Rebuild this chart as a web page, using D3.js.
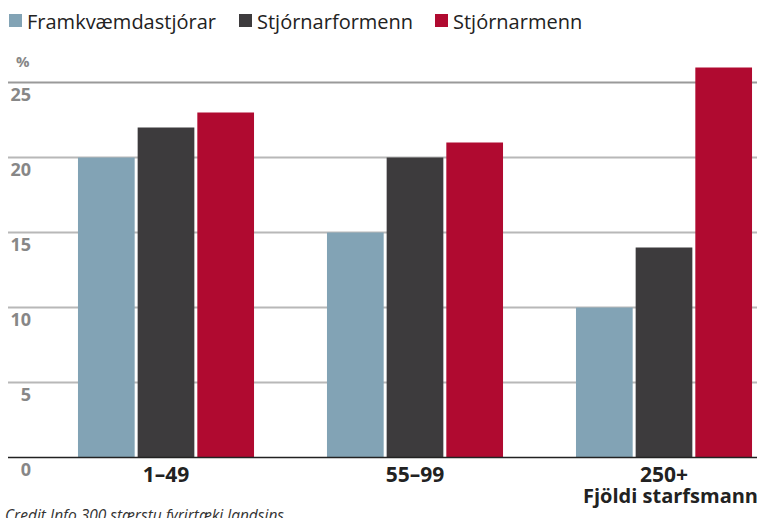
<!DOCTYPE html>
<html>
<head>
<meta charset="utf-8">
<script src="https://cdn.jsdelivr.net/npm/d3@7"></script>
<style>
  body { margin: 0; background: #fff; }
  svg { display: block; font-family: "Open Sans", sans-serif; }
</style>
</head>
<body>
<svg id="chart" width="757" height="518"></svg>
<script>
// data
const groups = ['1–49', '55–99', '250+'];
const series = ['Framkvæmdastjórar', 'Stjórnarformenn', 'Stjórnarmenn'];
const framkvaemdastjorar = [20, 15, 10];
const stjornarformenn = [22, 20, 14];
const stjornarmenn = [23, 21, 26];
const yTicks = [0, 5, 10, 15, 20, 25];

const colors = ['#82a3b5', '#3d3b3d', '#b00a30'];
const values = [framkvaemdastjorar, stjornarformenn, stjornarmenn];

const svg = d3.select('#chart');

const x0 = d3.scaleBand().domain(groups).range([41.5, 788.5])
    .paddingInner(0.293).paddingOuter(0.1465);
const x1 = d3.scaleBand().domain(series).range([0, x0.bandwidth()]).paddingInner(0.05);
const y = d3.scaleLinear().domain([0, 25]).range([457.5, 82.5]);

// gridlines
svg.append('g').selectAll('line')
    .data(yTicks.filter(d => d > 0))
    .join('line')
    .attr('x1', 8).attr('x2', 757)
    .attr('y1', d => y(d)).attr('y2', d => y(d))
    .attr('stroke', d => d === 25 ? '#9a9a9a' : '#b8b8b8')
    .attr('stroke-width', 2);

// bars
const rows = groups.map((g, i) => ({g, vals: series.map((s, j) => ({s, v: values[j][i], c: colors[j]}))}));
svg.append('g').selectAll('g')
    .data(rows)
    .join('g')
    .attr('transform', d => `translate(${x0(d.g)},0)`)
    .selectAll('rect')
    .data(d => d.vals)
    .join('rect')
    .attr('x', d => x1(d.s))
    .attr('width', x1.bandwidth())
    .attr('y', d => y(d.v))
    .attr('height', d => y(0) - y(d.v))
    .attr('fill', d => d.c);

// baseline
svg.append('line')
    .attr('x1', 8).attr('x2', 757)
    .attr('y1', y(0)).attr('y2', y(0))
    .attr('stroke', '#222').attr('stroke-width', 1.5);

// y tick labels
svg.append('g').selectAll('text')
    .data(yTicks)
    .join('text')
    .attr('x', 31)
    .attr('y', d => y(d) + 18)
    .attr('text-anchor', 'end')
    .attr('font-size', 18)
    .attr('font-weight', 700)
    .attr('fill', '#878787')
    .text(d => d);

svg.append('text')
    .attr('x', 16).attr('y', 67)
    .attr('font-size', 15).attr('font-weight', 700)
    .attr('fill', '#878787')
    .text('%');

// category labels
svg.append('g').selectAll('text')
    .data(groups)
    .join('text')
    .attr('x', d => x0(d) + x0.bandwidth() / 2)
    .attr('y', 482)
    .attr('text-anchor', 'middle')
    .attr('font-size', 21)
    .attr('font-weight', 700)
    .attr('fill', '#222')
    .text(d => d);

svg.append('text')
    .attr('x', 583).attr('y', 503)
    .attr('font-size', 20).attr('font-weight', 700)
    .attr('fill', '#222')
    .text('Fjöldi starfsmanna');

svg.append('text')
    .attr('x', 5).attr('y', 521)
    .attr('font-size', 15.5).attr('font-style', 'italic')
    .attr('fill', '#333')
    .text('Credit Info 300 stærstu fyrirtæki landsins');

// legend
const legendX = [9, 239, 435];
const legend = svg.append('g').selectAll('g')
    .data(series)
    .join('g')
    .attr('transform', (d, i) => `translate(${legendX[i]},0)`);
legend.append('rect')
    .attr('x', 0).attr('y', 14).attr('width', 13).attr('height', 13)
    .attr('fill', (d, i) => colors[i]);
legend.append('text')
    .attr('x', 18).attr('y', 29)
    .attr('font-size', 20)
    .attr('fill', '#222')
    .text(d => d);
</script>
</body>
</html>
